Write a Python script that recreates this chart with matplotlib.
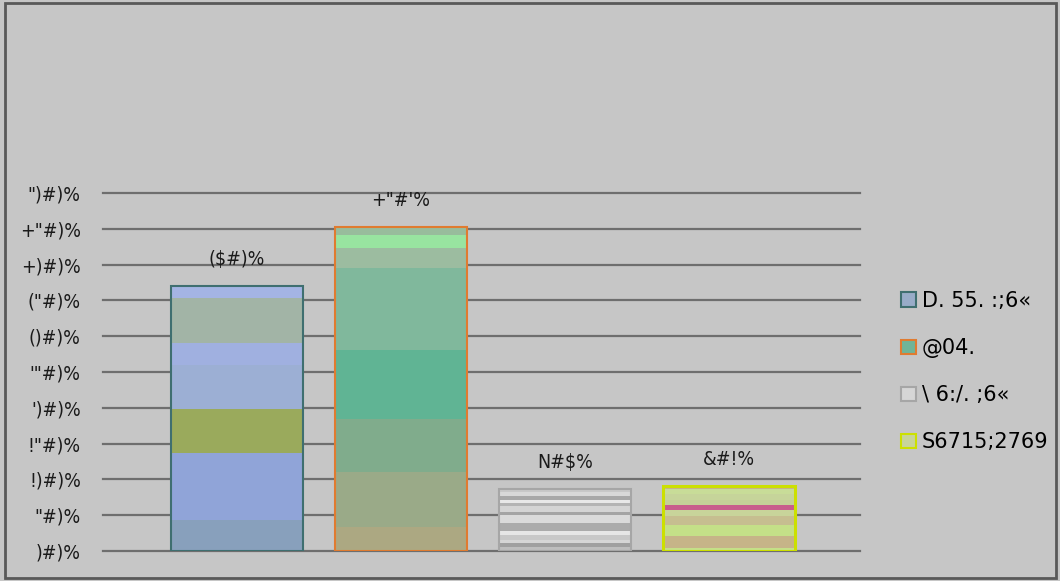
import matplotlib
matplotlib.use("Agg")
import matplotlib.pyplot as plt
from matplotlib.patches import Rectangle, Patch

plt.rcParams['font.family'] = ['DejaVu Sans']
plt.rcParams['font.stretch'] = 'condensed'

# data (text is kept exactly as it shows in the reference)
series = ["D. 55. :;6«", "@04.", "\\ 6:/. ;6«", "S6715;2769"]
values = [37.0, 45.2, 8.7, 9.1]
bar_labels = ["($#)%", "+\"#'%", "N#$%", "&#!%"]
yticks = [0, 5, 10, 15, 20, 25, 30, 35, 40, 45, 50]
ytick_labels = [")#)%", "\"#)%", "!)#)%", "!\"#)%", "')#)%", "'\"#)%",
                "()#)%", "(\"#)%", "+)#)%", "+\"#)%", "\")#)%"]

# stripe fills, listed top to bottom as (share of bar height, colour)
stripes = [
    [(37, "#a4b4e4"), (135, "#a2b4a6"), (65, "#a0b0e0"), (133, "#9cafd4"),
     (132, "#9aaa5c"), (200, "#90a4d8"), (93, "#88a0bc")],
    [(23, "#98bc9c"), (39, "#98e4a0"), (60, "#9cbca0"), (246, "#80b89c"),
     (207, "#60b494"), (159, "#80ac8c"), (165, "#9aaa88"), (72, "#aca882")],
    [(10, "#c8c8c8"), (12, "#d8d8d8"), (10, "#a8a8a8"), (10, "#e8e8e8"),
     (8, "#b4b4b4"), (18, "#d4d4d4"), (9, "#a4a4a4"), (21, "#dadada"),
     (24, "#ababab"), (13, "#e6e6e6"), (13, "#c8c8c8"), (8, "#d6d6d6"),
     (11, "#a0a0a0"), (13, "#bebebe")],
    [(8, "#c8b488"), (15, "#c8dc98"), (17, "#c6d49a"), (16, "#c4d098"),
     (15, "#c85c8c"), (17, "#c8d49a"), (25, "#c6be90"), (33, "#c4e088"),
     (32, "#c6b488"), (10, "#c4e088")],
]
edges = ["#3f6f70", "#e07b30", "#a6a6a6", "#cce000"]
legend_faces = ["#98acc8", "#70b498", "#d6d6d6", "#c8d49a"]
bg = "#c6c6c6"

fig = plt.figure(figsize=(10.6, 5.81), dpi=100, facecolor=bg)
ax = fig.add_axes([103 / 1060, 30 / 581, 757 / 1060, 358 / 581])
ax.set_facecolor(bg)

xs = range(len(values))
width = 0.805
for x, v, st, ec in zip(xs, values, stripes, edges):
    total = sum(s for s, _ in st)
    top = v
    for share, col in st:
        h = v * share / total
        ax.bar(x, h, width=width, bottom=top - h, color=col, linewidth=0, zorder=2)
        top -= h
    ax.bar(x, v, width=width, fill=False, edgecolor=ec,
           linewidth=2.2 if ec == "#cce000" else 1.5, zorder=3)

for x, v, lab in zip(xs, values, bar_labels):
    ax.text(x, v + 3.7, lab, ha="center", va="center", fontsize=14, color="#1a1a1a")

ax.set_xlim(-0.817, 3.80)
ax.set_ylim(0, 50)
ax.set_yticks(yticks)
ax.set_yticklabels(ytick_labels, fontsize=14, color="#1a1a1a")
ax.set_xticks([])
ax.tick_params(axis="y", length=0, pad=16)
ax.yaxis.grid(True, color="#6e6e6e", linewidth=1.6, zorder=0)
for gl in ax.get_ygridlines():
    gl.set_clip_on(False)
ax.set_axisbelow(True)
for s in ax.spines.values():
    s.set_visible(False)

handles = [Patch(facecolor=f, edgecolor=e, linewidth=1.5) for f, e in zip(legend_faces, edges)]
fig.legend(handles, series, loc="upper left", bbox_to_anchor=(901 / 1060, 1 - 291 / 581),
           frameon=False, prop={"size": 15, "stretch": "normal"},
           handlelength=0.7, handleheight=0.7,
           handletextpad=0.3, labelspacing=1.3, borderpad=0, borderaxespad=0)

fig.patches.append(Rectangle((5 / 1060, 3 / 581), 1051 / 1060, 575 / 581,
                             transform=fig.transFigure, fill=False,
                             edgecolor="#595959", linewidth=2))

fig.savefig("out.png", dpi=100, facecolor=bg)
